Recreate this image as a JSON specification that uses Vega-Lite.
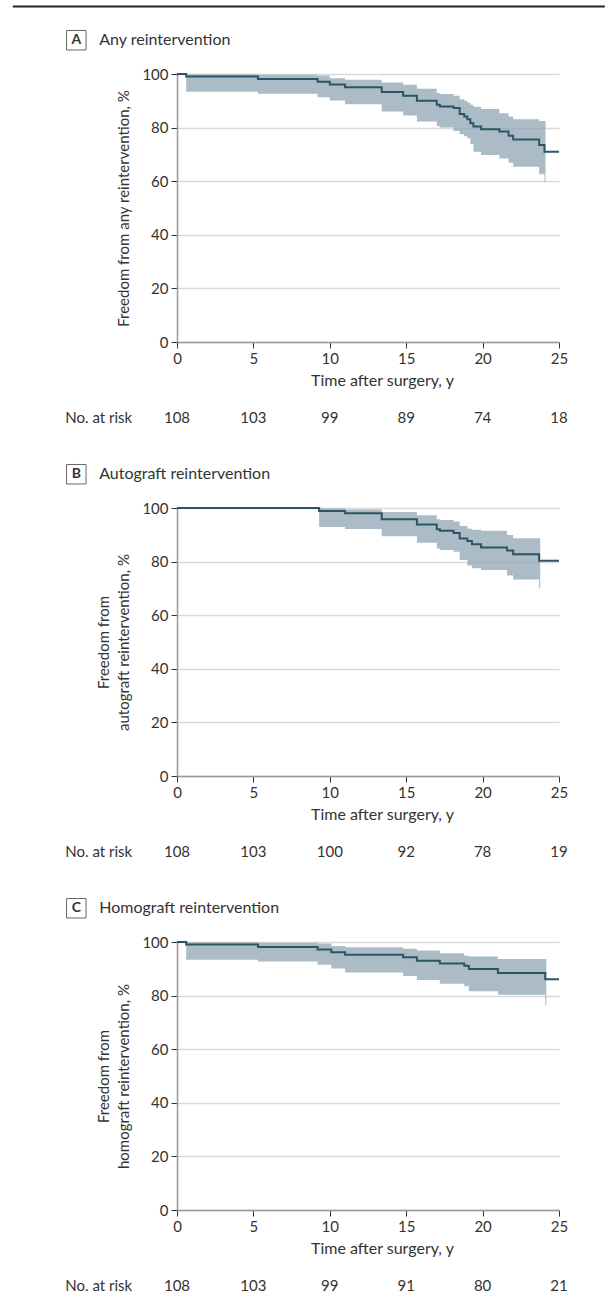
{
  "$schema": "https://vega.github.io/schema/vega-lite/v6.json",
  "padding": {"left": 11, "top": 5, "right": 0, "bottom": 5},
  "bounds": "flush",
  "spacing": 166,
  "datasets": {
    "kmA": [
      {"t": 0, "s": 100, "lo": 100, "hi": 100},
      {"t": 0.6, "s": 99.1, "lo": 93.4, "hi": 99.9},
      {"t": 5.3, "s": 98.1, "lo": 92.6, "hi": 99.7},
      {"t": 9.2, "s": 97.1, "lo": 91.3, "hi": 99.4},
      {"t": 10.0, "s": 96.1, "lo": 90.1, "hi": 98.4},
      {"t": 11.0, "s": 95.1, "lo": 88.7, "hi": 97.9},
      {"t": 13.4, "s": 93.3, "lo": 86.0, "hi": 96.8},
      {"t": 14.8, "s": 91.9, "lo": 84.5, "hi": 96.0},
      {"t": 15.7, "s": 90.0, "lo": 82.3, "hi": 94.5},
      {"t": 17.0, "s": 88.5, "lo": 80.6, "hi": 92.9},
      {"t": 17.2, "s": 87.9, "lo": 80.0, "hi": 92.5},
      {"t": 18.1, "s": 87.3, "lo": 78.7, "hi": 91.9},
      {"t": 18.5, "s": 85.1, "lo": 77.5, "hi": 90.6},
      {"t": 18.8, "s": 84.1, "lo": 76.8, "hi": 90.0},
      {"t": 19.0, "s": 83.1, "lo": 76.0, "hi": 89.3},
      {"t": 19.2, "s": 81.6, "lo": 73.9, "hi": 88.5},
      {"t": 19.4, "s": 80.4, "lo": 71.0, "hi": 87.8},
      {"t": 19.9, "s": 79.4, "lo": 69.8, "hi": 86.9},
      {"t": 21.1, "s": 78.5, "lo": 68.5, "hi": 85.4},
      {"t": 21.7, "s": 77.0, "lo": 66.9, "hi": 84.1},
      {"t": 22.0, "s": 75.6, "lo": 65.4, "hi": 83.1},
      {"t": 23.7, "s": 73.5, "lo": 62.6, "hi": 82.5},
      {"t": 24.05, "s": 71.0, "lo": 59.6, "hi": 82.5},
      {"t": 24.12, "s": 71.0, "lo": 59.6, "hi": 82.5},
      {"t": 25, "s": 71.0, "lo": null, "hi": null}
    ],
    "kmB": [
      {"t": 0, "s": 100, "lo": 100, "hi": 100},
      {"t": 9.3, "s": 98.9, "lo": 92.9, "hi": 99.9},
      {"t": 11.0, "s": 98.0, "lo": 92.2, "hi": 99.4},
      {"t": 13.4, "s": 95.8, "lo": 89.5, "hi": 98.5},
      {"t": 15.7, "s": 93.8, "lo": 87.0, "hi": 97.3},
      {"t": 17.0, "s": 92.1, "lo": 84.9, "hi": 95.8},
      {"t": 17.2, "s": 91.5, "lo": 84.3, "hi": 95.5},
      {"t": 18.1, "s": 90.7, "lo": 83.7, "hi": 95.0},
      {"t": 18.5, "s": 88.6, "lo": 80.6, "hi": 93.3},
      {"t": 19.0, "s": 87.7, "lo": 78.5, "hi": 92.3},
      {"t": 19.3, "s": 86.5, "lo": 77.5, "hi": 91.9},
      {"t": 19.9, "s": 85.3, "lo": 76.9, "hi": 91.5},
      {"t": 21.6, "s": 84.1, "lo": 74.8, "hi": 89.9},
      {"t": 22.0, "s": 82.7, "lo": 73.3, "hi": 88.7},
      {"t": 23.7, "s": 80.3, "lo": 70.0, "hi": 88.7},
      {"t": 23.77, "s": 80.3, "lo": 70.0, "hi": 88.7},
      {"t": 25, "s": 80.3, "lo": null, "hi": null}
    ],
    "kmC": [
      {"t": 0, "s": 100, "lo": 100, "hi": 100},
      {"t": 0.6, "s": 99.1, "lo": 93.4, "hi": 99.9},
      {"t": 5.3, "s": 98.1, "lo": 92.7, "hi": 99.7},
      {"t": 9.2, "s": 97.2, "lo": 91.5, "hi": 99.4},
      {"t": 10.1, "s": 96.2, "lo": 90.1, "hi": 98.5},
      {"t": 11.0, "s": 95.2, "lo": 88.6, "hi": 98.0},
      {"t": 14.8, "s": 94.3, "lo": 87.3, "hi": 97.5},
      {"t": 15.7, "s": 93.0, "lo": 85.8, "hi": 96.8},
      {"t": 17.2, "s": 92.0, "lo": 84.4, "hi": 95.8},
      {"t": 18.8, "s": 91.1, "lo": 83.5, "hi": 94.9},
      {"t": 19.1, "s": 89.9, "lo": 81.6, "hi": 94.6},
      {"t": 21.0, "s": 88.4, "lo": 80.3, "hi": 93.7},
      {"t": 24.1, "s": 86.1, "lo": 76.6, "hi": 93.7},
      {"t": 24.17, "s": 86.1, "lo": 76.6, "hi": 93.7},
      {"t": 25, "s": 86.1, "lo": null, "hi": null}
    ],
    "riskA": [
      {"t": 0, "n": 108}, {"t": 5, "n": 103}, {"t": 10, "n": 99},
      {"t": 15, "n": 89}, {"t": 20, "n": 74}, {"t": 25, "n": 18}
    ],
    "riskB": [
      {"t": 0, "n": 108}, {"t": 5, "n": 103}, {"t": 10, "n": 100},
      {"t": 15, "n": 92}, {"t": 20, "n": 78}, {"t": 25, "n": 19}
    ],
    "riskC": [
      {"t": 0, "n": 108}, {"t": 5, "n": 103}, {"t": 10, "n": 99},
      {"t": 15, "n": 91}, {"t": 20, "n": 80}, {"t": 25, "n": 21}
    ],
    "labA": [{"letter": "A", "title": "Any reintervention", "risk": "No. at risk"}],
    "labB": [{"letter": "B", "title": "Autograft reintervention", "risk": "No. at risk"}],
    "labC": [{"letter": "C", "title": "Homograft reintervention", "risk": "No. at risk"}]
  },
  "vconcat": [
    {
      "width": 382,
      "height": 268,
      "layer": [
        {
          "data": {"name": "kmA"},
          "transform": [{"filter": "datum.lo != null"}],
          "mark": {"type": "area", "interpolate": "step-after", "color": "#8fa5b3", "opacity": 0.75},
          "encoding": {
            "x": {"field": "t", "type": "quantitative", "scale": {"domain": [0, 25]}, "axis": {"values": [0, 5, 10, 15, 20, 25], "title": "Time after surgery, y"}},
            "y": {"field": "lo", "type": "quantitative", "scale": {"domain": [0, 100]}, "axis": {"values": [0, 20, 40, 60, 80, 100], "title": "Freedom from any reintervention, %"}},
            "y2": {"field": "hi"}
          }
        },
        {
          "data": {"name": "kmA"},
          "mark": {"type": "line", "interpolate": "step-after", "color": "#2b5565", "strokeWidth": 2},
          "encoding": {
            "x": {"field": "t", "type": "quantitative", "scale": {"domain": [0, 25]}},
            "y": {"field": "s", "type": "quantitative", "scale": {"domain": [0, 100]}}
          }
        },
        {
          "data": {"name": "riskA"},
          "mark": {"type": "text", "align": "center", "baseline": "middle"},
          "encoding": {
            "x": {"field": "t", "type": "quantitative", "scale": {"domain": [0, 25]}},
            "y": {"datum": -28.3, "type": "quantitative", "scale": {"domain": [0, 100]}},
            "text": {"field": "n", "type": "quantitative"}
          }
        },
        {
          "data": {"name": "labA"},
          "layer": [
            {
              "mark": {"type": "text", "align": "left", "baseline": "middle"},
              "encoding": {
                "x": {"datum": -7.31, "type": "quantitative", "scale": {"domain": [0, 25]}},
                "y": {"datum": -28.3, "type": "quantitative", "scale": {"domain": [0, 100]}},
                "text": {"field": "risk"}
              }
            },
            {
              "mark": {"type": "point", "shape": "square", "size": 380, "filled": false, "stroke": "#666", "strokeWidth": 1, "opacity": 1},
              "encoding": {
                "x": {"datum": -6.59, "type": "quantitative", "scale": {"domain": [0, 25]}},
                "y": {"datum": 112.6, "type": "quantitative", "scale": {"domain": [0, 100]}}
              }
            },
            {
              "mark": {"type": "text", "align": "center", "baseline": "middle", "fontWeight": "bold", "fontSize": 14},
              "encoding": {
                "x": {"datum": -6.59, "type": "quantitative", "scale": {"domain": [0, 25]}},
                "y": {"datum": 112.6, "type": "quantitative", "scale": {"domain": [0, 100]}},
                "text": {"field": "letter"}
              }
            },
            {
              "mark": {"type": "text", "align": "left", "baseline": "middle", "fontSize": 16},
              "encoding": {
                "x": {"datum": -5.09, "type": "quantitative", "scale": {"domain": [0, 25]}},
                "y": {"datum": 112.6, "type": "quantitative", "scale": {"domain": [0, 100]}},
                "text": {"field": "title"}
              }
            },
            {
              "mark": {"type": "rule", "color": "#222", "strokeWidth": 2},
              "encoding": {
                "x": {"datum": -10.74, "type": "quantitative", "scale": {"domain": [0, 25]}},
                "x2": {"datum": 28.0},
                "y": {"datum": 125.2, "type": "quantitative", "scale": {"domain": [0, 100]}}
              }
            }
          ]
        }
      ]
    },
    {
      "width": 382,
      "height": 268,
      "layer": [
        {
          "data": {"name": "kmB"},
          "transform": [{"filter": "datum.lo != null"}],
          "mark": {"type": "area", "interpolate": "step-after", "color": "#8fa5b3", "opacity": 0.75},
          "encoding": {
            "x": {"field": "t", "type": "quantitative", "scale": {"domain": [0, 25]}, "axis": {"values": [0, 5, 10, 15, 20, 25], "title": "Time after surgery, y"}},
            "y": {"field": "lo", "type": "quantitative", "scale": {"domain": [0, 100]}, "axis": {"values": [0, 20, 40, 60, 80, 100], "title": ["Freedom from", "autograft reintervention, %"]}},
            "y2": {"field": "hi"}
          }
        },
        {
          "data": {"name": "kmB"},
          "mark": {"type": "line", "interpolate": "step-after", "color": "#2b5565", "strokeWidth": 2},
          "encoding": {
            "x": {"field": "t", "type": "quantitative", "scale": {"domain": [0, 25]}},
            "y": {"field": "s", "type": "quantitative", "scale": {"domain": [0, 100]}}
          }
        },
        {
          "data": {"name": "riskB"},
          "mark": {"type": "text", "align": "center", "baseline": "middle"},
          "encoding": {
            "x": {"field": "t", "type": "quantitative", "scale": {"domain": [0, 25]}},
            "y": {"datum": -28.3, "type": "quantitative", "scale": {"domain": [0, 100]}},
            "text": {"field": "n", "type": "quantitative"}
          }
        },
        {
          "data": {"name": "labB"},
          "layer": [
            {
              "mark": {"type": "text", "align": "left", "baseline": "middle"},
              "encoding": {
                "x": {"datum": -7.31, "type": "quantitative", "scale": {"domain": [0, 25]}},
                "y": {"datum": -28.3, "type": "quantitative", "scale": {"domain": [0, 100]}},
                "text": {"field": "risk"}
              }
            },
            {
              "mark": {"type": "point", "shape": "square", "size": 380, "filled": false, "stroke": "#666", "strokeWidth": 1, "opacity": 1},
              "encoding": {
                "x": {"datum": -6.59, "type": "quantitative", "scale": {"domain": [0, 25]}},
                "y": {"datum": 112.6, "type": "quantitative", "scale": {"domain": [0, 100]}}
              }
            },
            {
              "mark": {"type": "text", "align": "center", "baseline": "middle", "fontWeight": "bold", "fontSize": 14},
              "encoding": {
                "x": {"datum": -6.59, "type": "quantitative", "scale": {"domain": [0, 25]}},
                "y": {"datum": 112.6, "type": "quantitative", "scale": {"domain": [0, 100]}},
                "text": {"field": "letter"}
              }
            },
            {
              "mark": {"type": "text", "align": "left", "baseline": "middle", "fontSize": 16},
              "encoding": {
                "x": {"datum": -5.09, "type": "quantitative", "scale": {"domain": [0, 25]}},
                "y": {"datum": 112.6, "type": "quantitative", "scale": {"domain": [0, 100]}},
                "text": {"field": "title"}
              }
            }
          ]
        }
      ]
    },
    {
      "width": 382,
      "height": 268,
      "layer": [
        {
          "data": {"name": "kmC"},
          "transform": [{"filter": "datum.lo != null"}],
          "mark": {"type": "area", "interpolate": "step-after", "color": "#8fa5b3", "opacity": 0.75},
          "encoding": {
            "x": {"field": "t", "type": "quantitative", "scale": {"domain": [0, 25]}, "axis": {"values": [0, 5, 10, 15, 20, 25], "title": "Time after surgery, y"}},
            "y": {"field": "lo", "type": "quantitative", "scale": {"domain": [0, 100]}, "axis": {"values": [0, 20, 40, 60, 80, 100], "title": ["Freedom from", "homograft reintervention, %"]}},
            "y2": {"field": "hi"}
          }
        },
        {
          "data": {"name": "kmC"},
          "mark": {"type": "line", "interpolate": "step-after", "color": "#2b5565", "strokeWidth": 2},
          "encoding": {
            "x": {"field": "t", "type": "quantitative", "scale": {"domain": [0, 25]}},
            "y": {"field": "s", "type": "quantitative", "scale": {"domain": [0, 100]}}
          }
        },
        {
          "data": {"name": "riskC"},
          "mark": {"type": "text", "align": "center", "baseline": "middle"},
          "encoding": {
            "x": {"field": "t", "type": "quantitative", "scale": {"domain": [0, 25]}},
            "y": {"datum": -28.3, "type": "quantitative", "scale": {"domain": [0, 100]}},
            "text": {"field": "n", "type": "quantitative"}
          }
        },
        {
          "data": {"name": "labC"},
          "layer": [
            {
              "mark": {"type": "text", "align": "left", "baseline": "middle"},
              "encoding": {
                "x": {"datum": -7.31, "type": "quantitative", "scale": {"domain": [0, 25]}},
                "y": {"datum": -28.3, "type": "quantitative", "scale": {"domain": [0, 100]}},
                "text": {"field": "risk"}
              }
            },
            {
              "mark": {"type": "point", "shape": "square", "size": 380, "filled": false, "stroke": "#666", "strokeWidth": 1, "opacity": 1},
              "encoding": {
                "x": {"datum": -6.59, "type": "quantitative", "scale": {"domain": [0, 25]}},
                "y": {"datum": 112.6, "type": "quantitative", "scale": {"domain": [0, 100]}}
              }
            },
            {
              "mark": {"type": "text", "align": "center", "baseline": "middle", "fontWeight": "bold", "fontSize": 14},
              "encoding": {
                "x": {"datum": -6.59, "type": "quantitative", "scale": {"domain": [0, 25]}},
                "y": {"datum": 112.6, "type": "quantitative", "scale": {"domain": [0, 100]}},
                "text": {"field": "letter"}
              }
            },
            {
              "mark": {"type": "text", "align": "left", "baseline": "middle", "fontSize": 16},
              "encoding": {
                "x": {"datum": -5.09, "type": "quantitative", "scale": {"domain": [0, 25]}},
                "y": {"datum": 112.6, "type": "quantitative", "scale": {"domain": [0, 100]}},
                "text": {"field": "title"}
              }
            }
          ]
        }
      ]
    }
  ],
  "config": {
    "font": "Lato",
    "view": {"stroke": null},
    "axis": {
      "labelFont": "Lato", "titleFont": "Lato",
      "labelFontSize": 15, "titleFontSize": 15, "titleFontWeight": "normal",
      "labelColor": "#333", "titleColor": "#333",
      "tickColor": "#333", "tickSize": 6,
      "domainColor": "#999", "domainWidth": 1.5,
      "labelPadding": 3, "labelFlush": false, "labelOverlap": false
    },
    "axisY": {"grid": true, "gridColor": "#dadada", "gridWidth": 1.5, "titlePadding": 10, "titleLineHeight": 20},
    "axisX": {"grid": false, "titlePadding": 6, "titleFontSize": 16, "titleX": 205},
    "text": {"font": "Lato", "fontSize": 15, "color": "#333"}
  }
}
